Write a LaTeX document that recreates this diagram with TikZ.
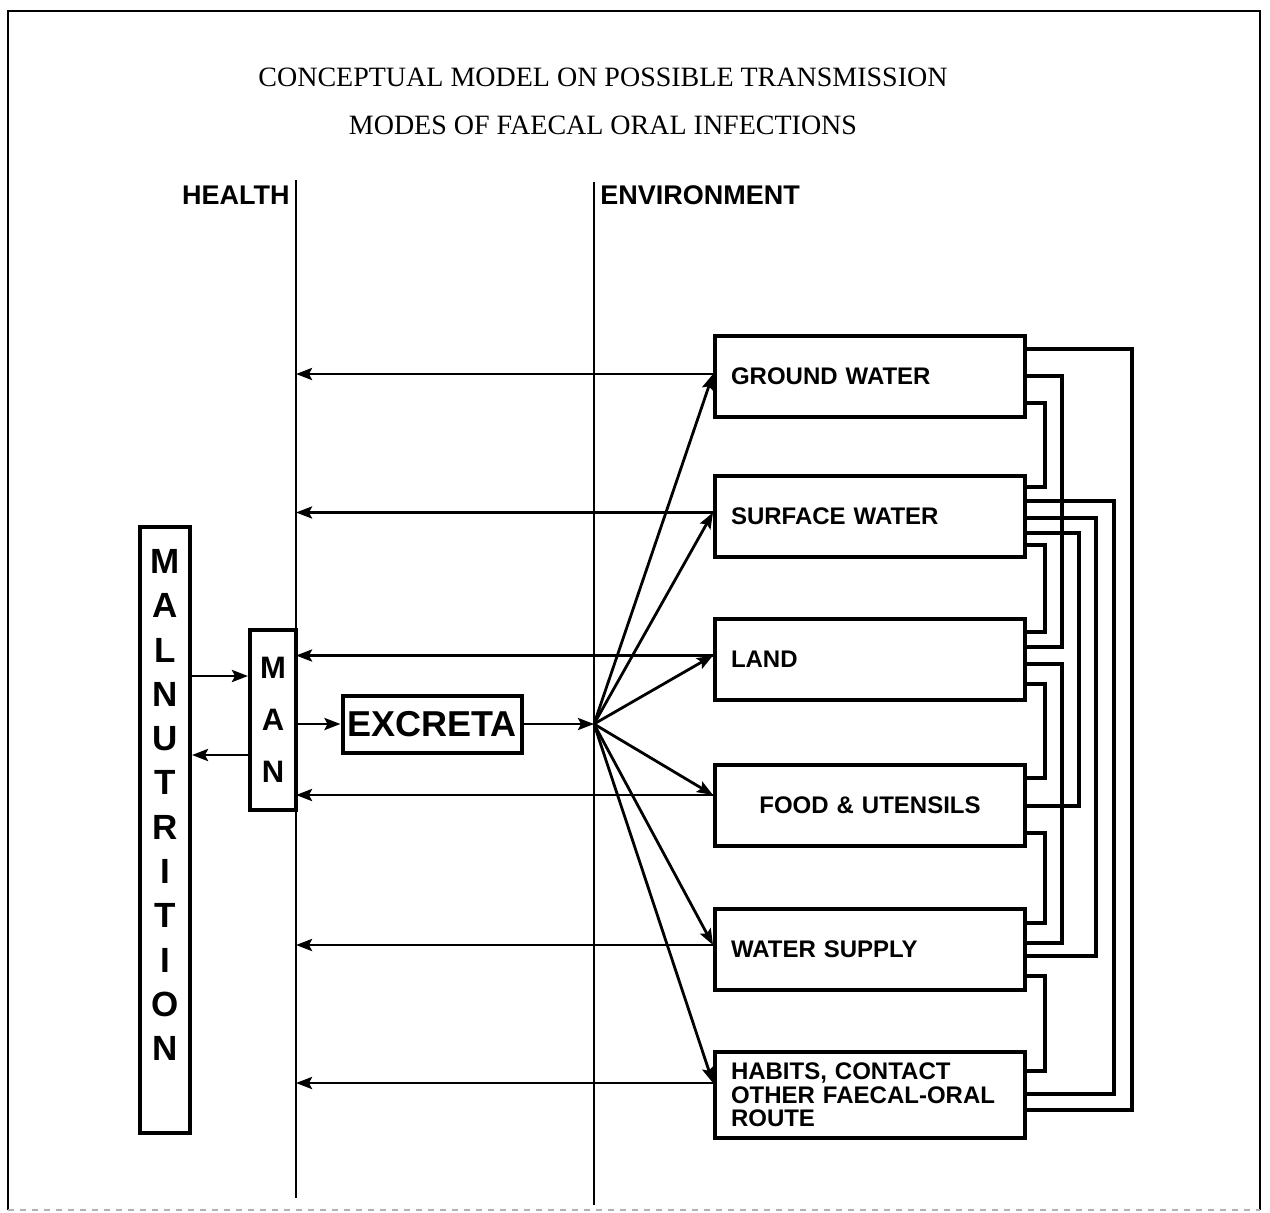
\documentclass[tikz,border=0pt]{standalone}
\usepackage{fontspec}
\setmainfont{Liberation Serif}
\setsansfont{Liberation Sans}
\usetikzlibrary{arrows.meta,positioning,calc}

\begin{document}
\begin{tikzpicture}[x=0.5pt, y=-0.5pt,
    srcbox/.style={draw, line width=2pt, minimum width=155pt, minimum height=40.5pt,
                   inner xsep=8pt, text width=139pt, align=left,
                   font=\fontsize{12}{11.8}\selectfont\sffamily\bfseries},
    link/.style={line width=2pt},
    flow/.style={line width=1.4pt, -{Stealth[length=8pt,width=6pt,inset=1.5pt]}},
    axis/.style={line width=1.4pt},
    sidelabel/.style={font=\fontsize{13.5}{16}\selectfont\sffamily\bfseries, inner sep=1pt},
    heading/.style={font=\fontsize{14}{16}\selectfont},
]
  \useasboundingbox (0,0) rectangle (1270,1212);

  % frame
  \draw[line width=1.2pt] (8,1210) -- (8,11) -- (1260,11) -- (1260,1210);
  \draw[gray!60, dashed, line width=0.6pt] (8,1210) -- (1260,1210);

  % title
  \node[heading] (t1) at (603,77)  {CONCEPTUAL MODEL ON POSSIBLE TRANSMISSION};
  \node[heading] (t2) at (603,125) {MODES OF FAECAL ORAL INFECTIONS};

  % the two axes
  \coordinate (htop) at (296,180);
  \coordinate (hbot) at (296,1198);
  \coordinate (etop) at (594,182);
  \coordinate (ebot) at (594,1205);
  \draw[axis] (htop) -- (hbot);
  \draw[axis] (etop) -- (ebot);
  \node[sidelabel, anchor=east] (health) at (292,195) {HEALTH};
  \node[sidelabel, anchor=west] (envir)  at (598,195) {ENVIRONMENT};

  % health side
  \node[draw, line width=2pt, minimum width=25pt, minimum height=303pt] (mal) at (165,830) {};
  \node[font=\fontsize{17.5}{22.15}\selectfont\sffamily\bfseries, align=center] (maltxt) at (165,805)
    {M\\A\\L\\N\\U\\T\\R\\I\\T\\I\\O\\N};
  \node[draw, line width=2pt, minimum width=23pt, minimum height=90pt, align=center,
        font=\fontsize{15.5}{26}\selectfont\sffamily\bfseries] (man) at (273,720) {M\\A\\N};
  \node[draw, line width=2pt, minimum width=89.5pt, minimum height=28.5pt, inner sep=1pt,
        font=\fontsize{18}{20}\selectfont\sffamily\bfseries] (excreta) at (432,724) {EXCRETA};

  \coordinate (manin)  at ($(man.north west)+(0,48)$);
  \coordinate (manout) at ($(man.north west)+(0,127)$);
  \draw[flow] (manin -| mal.east) -- (manin);
  \draw[flow] (manout) -- (manout -| mal.east);
  \draw[flow] (excreta.west -| man.east) -- (excreta.west);

  % environment side
  \coordinate (hub) at (594,724);
  \draw[flow] (excreta.east) -- (hub);

  \node[srcbox] (gw)   at (870,376.5) {GROUND WATER};
  \node[srcbox] (sw)   at (870,516)   {SURFACE WATER};
  \node[srcbox] (land) at (870,659)   {LAND};
  \node[srcbox, align=center] (food) at (870,805.5) {FOOD \& UTENSILS};
  \node[srcbox] (ws)   at (870,949.5) {WATER SUPPLY};
  \node[srcbox, minimum height=43pt] (hab) at (870,1095)
    {HABITS, CONTACT\\OTHER FAECAL-ORAL\\ROUTE};

  \foreach \b/\dy in {gw/40,sw/39,land/39,food/32,ws/38,hab/33}{
    \coordinate (\b-in) at ($(\b.north west)+(0,\dy)$);
    \draw[flow] (\b-in) -- (\b-in -| htop);
    \draw[flow] (hub) -- (\b-in);
  }

  % links between the sources
  \foreach \a/\da/\b/\db/\dx in {gw/15/hab/60/105, gw/42/land/30/35, gw/69/sw/13/18,
      sw/27/hab/44/87, sw/44/ws/49/69, sw/59/food/43/52, sw/71/land/15/18,
      land/47/ws/36/35, land/67/food/15/18, food/70/ws/16/18, ws/69/hab/21/18}
    \draw[link] ($(\a.north east)+(0,\da)$) -| ($(\b.north east)+(\dx,\db)$)
      -- ($(\b.north east)+(0,\db)$);
\end{tikzpicture}
\end{document}
